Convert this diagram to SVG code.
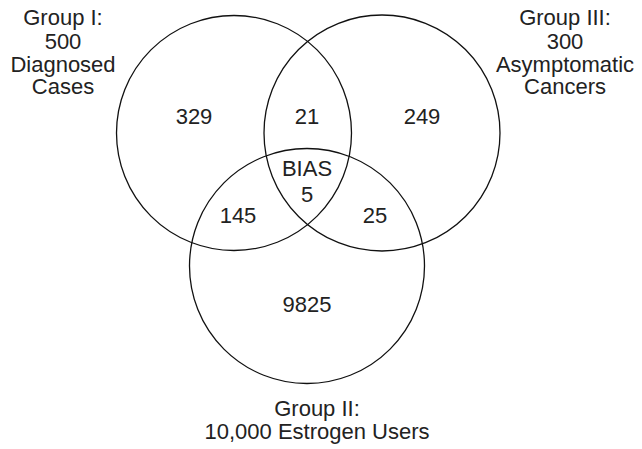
<svg xmlns="http://www.w3.org/2000/svg" width="642" height="449" viewBox="0 0 642 449">
<style>
.c{fill:none;stroke:#111;stroke-width:1.3}
text{font-family:"Liberation Sans",Arial,sans-serif;font-size:22px;fill:#222;text-anchor:middle}
</style>
<rect width="642" height="449" fill="#fff"/>
<g id="connectors"></g>
<g id="group1">
<circle class="c" cx="234" cy="133" r="117.5"/>
<text x="63" y="25">Group I:</text>
<text x="63" y="49">500</text>
<text x="63" y="72">Diagnosed</text>
<text x="63" y="94">Cases</text>
</g>
<g id="group3">
<circle class="c" cx="382" cy="133" r="118"/>
<text x="565" y="25">Group III:</text>
<text x="565" y="49">300</text>
<text x="565" y="72">Asymptomatic</text>
<text x="565" y="94">Cancers</text>
</g>
<g id="group2">
<circle class="c" cx="307" cy="266" r="117.5"/>
<text x="317" y="416">Group II:</text>
<text x="317" y="439">10,000 Estrogen Users</text>
</g>
<g id="regions">
<text x="194" y="124">329</text>
<text x="307" y="124">21</text>
<text x="422" y="124">249</text>
<text x="307" y="176">BIAS</text>
<text x="307" y="202">5</text>
<text x="238" y="223">145</text>
<text x="375" y="223">25</text>
<text x="307" y="312">9825</text>
</g>
</svg>
